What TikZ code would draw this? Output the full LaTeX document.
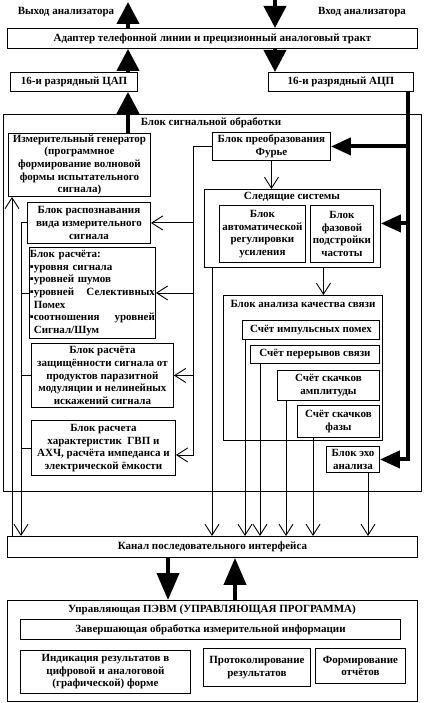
\documentclass[tikz,border=0pt]{standalone}
\usepackage{fontspec}
\setmainfont{Liberation Serif}
\usetikzlibrary{arrows.meta,positioning}

\tikzset{
  txt/.style={font=\bfseries\fontsize{11}{12.6}\selectfont, inner sep=0.5pt},
  blk/.style={txt, draw, line width=0.9pt, align=center, anchor=north west},
  toparr/.style={line width=4pt, -{Triangle[width=22pt,length=22pt]}},
  botarr/.style={line width=4pt, -{Triangle[width=22pt,length=27pt]}},
  busarr/.style={line width=4pt, -{Triangle[width=17pt,length=20pt]}},
  thinarr/.style={line width=0.9pt, -{Straight Barb[length=11pt,width=14pt]}},
  thinline/.style={line width=0.9pt},
}

\begin{document}
\begin{tikzpicture}[x=1pt,y=-1pt]
\useasboundingbox (0,0) rectangle (424,703);

% analyser in / out
\node[txt] (outlbl) at (66,12) {Выход анализатора};
\node[txt] (inlbl) at (362,12) {Вход анализатора};
\node[blk, minimum width=410pt, minimum height=20pt] (adapter) at (7,28) {Адаптер телефонной линии и прецизионный аналоговый тракт};
\node[blk, minimum width=127pt, minimum height=19pt] (dac) at (10,72) {16-и разрядный ЦАП};
\node[blk, minimum width=145pt, minimum height=19pt] (adc) at (268,72) {16-и разрядный АЦП};

% signal processing block
\node[blk, minimum width=418pt, minimum height=377pt] (dsp) at (3,114) {};
\node[txt] (dsptitle) at (211,123) {Блок сигнальной обработки};

\node[blk, minimum width=142pt, minimum height=63pt] (gen) at (8,133) {Измерительный генератор\\(программное\\формирование волновой\\формы испытательного\\сигнала)};
\node[blk, minimum width=123pt, minimum height=41pt] (rec) at (27,202) {Блок распознавания\\вида измерительного\\сигнала};
\node[blk, align=left, text width=125pt, minimum height=91pt] (calc) at (29,247) {Блок расчёта:\\
  ▪уровня сигнала\\
  ▪уровней шумов\\
  ▪уровней \hfill Селективных\\
  \phantom{▪}Помех\\
  ▪соотношения \hfill уровней\\
  \phantom{▪}Сигнал/Шум};
\node[blk, minimum width=142pt, minimum height=64pt] (prot) at (31,343) {Блок расчёта\\защищённости сигнала от\\продуктов паразитной\\модуляции и нелинейных\\искажений сигнала};
\node[blk, minimum width=144pt, minimum height=55pt] (gvp) at (31,420) {Блок расчета\\характеристик \ ГВП и\\АХЧ, расчёта импеданса и\\электрической ёмкости};

\node[blk, minimum width=118pt, minimum height=28pt] (fft) at (212,132) {Блок преобразования\\Фурье};
\node[blk, minimum width=176pt, minimum height=78pt] (trk) at (204,189) {};
\node[txt] (trktitle) at (292,197) {Следящие системы};
\node[blk, minimum width=86pt, minimum height=57pt] (agc) at (219,205) {Блок\\автоматической\\регулировки\\усиления};
\node[blk, minimum width=63pt, minimum height=57pt] (pll) at (310,205) {Блок\\фазовой\\подстройки\\частоты};

\node[blk, minimum width=159pt, minimum height=145pt] (qa) at (223,295) {};
\node[txt] (qatitle) at (303,304) {Блок анализа качества связи};
\node[blk, minimum width=137pt, minimum height=19pt] (imp) at (242,320) {Счёт импульсных помех};
\node[blk, minimum width=129pt, minimum height=18pt] (brk) at (250,345) {Счёт перерывов связи};
\node[blk, minimum width=102pt, minimum height=30pt] (amp) at (277,370) {Счёт скачков\\амплитуды};
\node[blk, minimum width=82pt, minimum height=32pt] (phs) at (297,405) {Счёт скачков\\фазы};
\node[blk, minimum width=53pt, minimum height=26pt] (echo) at (326,446) {Блок эхо\\анализа};

% interface and control PC
\node[blk, minimum width=410pt, minimum height=21pt] (iface) at (7,536) {Канал последовательного интерфейса};
\node[blk, minimum width=410pt, minimum height=101pt] (pc) at (7,600) {};
\node[txt] (pctitle) at (212,610) {Управляющая ПЭВМ (УПРАВЛЯЮЩАЯ ПРОГРАММА)};
\node[blk, minimum width=380pt, minimum height=20pt] (fin) at (20,619) {Завершающая обработка измерительной информации};
\node[blk, minimum width=170pt, minimum height=43pt] (ind) at (20,650) {Индикация результатов в\\цифровой и аналоговой\\(графической) форме};
\node[blk, minimum width=107pt, minimum height=38pt] (log) at (203,648) {Протоколирование\\результатов};
\node[blk, minimum width=90pt, minimum height=35pt] (rep) at (315,648) {Формирование\\отчётов};

% thick links
\coordinate (colout) at (128,2);
\coordinate (colin) at (275,0);
\draw[toparr] (adapter.north -| colout) -- (colout);
\draw[toparr] (colin) -- (adapter.north -| colin);
\draw[toparr] (dac.north -| colout) -- (adapter.south -| colout);
\draw[toparr] (adapter.south -| colin) -- (adc.north -| colin);
\draw[toparr] (gen.north -| colout) -- (dac.south -| colout);

\coordinate (adcbus) at (408,0);
\coordinate (trkin) at ([yshift=5pt]trk.east);
\draw[busarr] (adc.south -| adcbus) |- (echo.east);
\draw[busarr] (adcbus |- fft.east) -- (fft.east);
\draw[busarr] (adcbus |- trkin) -- (trkin);

\coordinate (dncol) at (168,0);
\coordinate (upcol) at (235,0);
\draw[botarr] (iface.south -| dncol) -- (pc.north -| dncol);
\draw[botarr] (pc.north -| upcol) -- (iface.south -| upcol);

% thin links
\coordinate (trkout) at ([xshift=31pt]trk.south);
\draw[thinarr] (fft.south) -- (fft.south |- trk.north);
\draw[thinarr] (trkout) -- (trkout |- qa.north);

\coordinate (fftbus) at (193,0);
\coordinate (gvpin) at ([yshift=-7pt]gvp.east);
\draw[thinarr] (fft.west) -| (fftbus |- gvpin) -- (gvpin);
\foreach \n in {rec,calc,prot}
  \draw[thinarr] (fftbus |- \n.east) -- (\n.east);

\coordinate (downbus) at (21,0);
\coordinate (upbus) at (12,0);
\foreach \n in {rec,calc,prot,gvp}
  \draw[thinline] (\n.west) -- (downbus |- \n.west);
\draw[thinarr] (downbus |- rec.west) -- (downbus |- iface.north);
\draw[thinarr] (upbus |- iface.north) -- (upbus |- gen.south);

\foreach \n/\dx in {trk/8,imp/3,brk/10,amp/9,phs/16,echo/42} {
  \coordinate (\n out) at ([xshift=\dx pt]\n.south west);
  \draw[thinarr] (\n out) -- (\n out |- iface.north);
}
\end{tikzpicture}
\end{document}
